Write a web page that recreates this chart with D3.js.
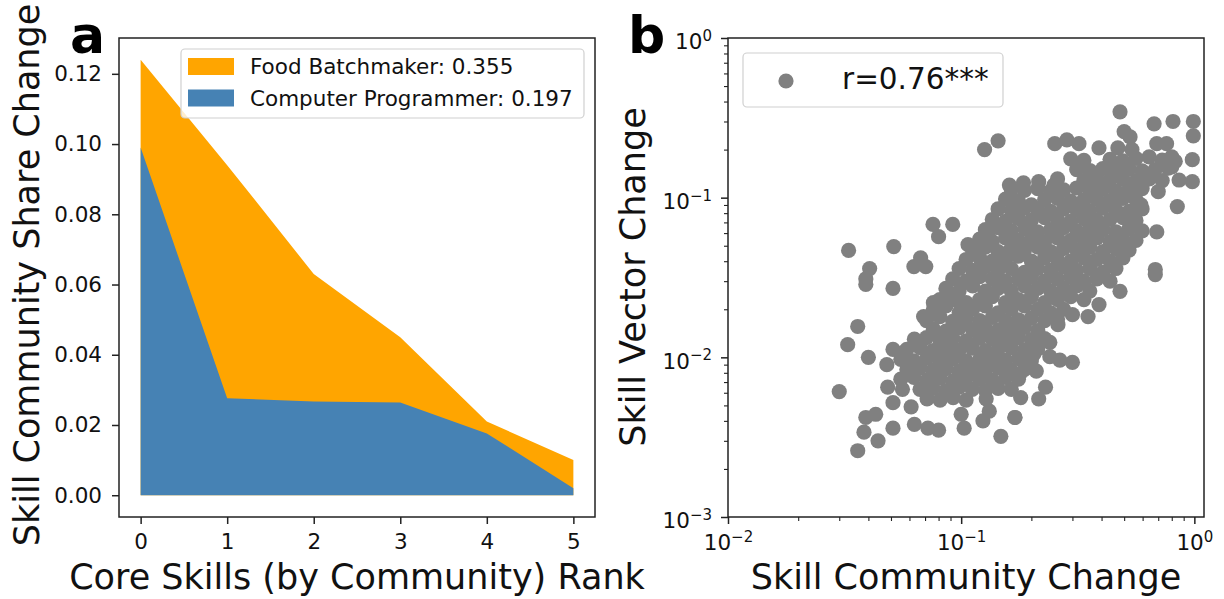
<!DOCTYPE html>
<html lang="en">
<head>
    <meta charset="UTF-8">
    <title>Skill Community Change</title>
    <script src="https://d3js.org/d3.v7.min.js"></script>
    <style>
        body { margin: 0; background: #fff; }
        svg { font-family: "DejaVu Sans", sans-serif; }
        .axis path, .axis line { stroke: #222; }
        .axis text { fill: #111; }
    </style>
</head>
<body>
<svg id="fig" width="1224" height="599"></svg>
<script>
// ---- panel a data ----
const ranks = [0, 1, 2, 3, 4, 5];
const foodBatchmaker = [0.124, 0.094, 0.063, 0.045, 0.021, 0.010];
const computerProgrammer = [0.099, 0.0276, 0.0267, 0.0264, 0.0176, 0.002];
const seriesLabels = ["Food Batchmaker: 0.355", "Computer Programmer: 0.197"];
const shareTicks = [0, 0.02, 0.04, 0.06, 0.08, 0.10, 0.12];

// ---- panel b data: [skill community change, skill vector change] ----
const corrLabel = "r=0.76***";
const logTicks = [0.001, 0.01, 0.1, 1];
const skillPoints = [
  // scattered points
  [0.126,0.200],[0.144,0.227],[0.161,0.120],[0.160,0.100],[0.0757,0.068],[0.092,0.068],[0.080,0.057],
  [0.0329,0.0467],[0.0514,0.0494],[0.067,0.042],[0.0627,0.037],[0.0705,0.037],[0.0405,0.036],[0.039,0.031],
  [0.48,0.345],[0.672,0.29],[0.81,0.30],[0.99,0.30],[0.99,0.244],[0.98,0.173],[0.98,0.126],[0.845,0.088],
  [0.69,0.061],[0.68,0.0355],[0.50,0.259],[0.53,0.24],[0.252,0.218],[0.284,0.23],[0.32,0.218],[0.39,0.205],
  [0.47,0.205],[0.54,0.2],[0.69,0.218],[0.76,0.218],[0.64,0.18],[0.80,0.18],[0.80,0.156],[0.185,0.124],
  [0.215,0.126],[0.25,0.12],[0.36,0.12],[0.86,0.129],[0.70,0.109],[0.59,0.09],[0.17,0.09],[0.20,0.09],
  [0.13,0.059],[0.107,0.0508],
  [0.039,0.0286],[0.051,0.027],[0.036,0.0156],[0.0326,0.012],[0.040,0.010],[0.030,0.0061],[0.0484,0.0065],
  [0.051,0.0052],[0.039,0.0042],[0.043,0.0044],[0.051,0.0036],[0.0383,0.0034],[0.044,0.0030],[0.036,0.0026],
  [0.063,0.0038],[0.072,0.0036],[0.080,0.0035],[0.103,0.0036],[0.100,0.0044],[0.124,0.0040],[0.132,0.0046],
  [0.128,0.0055],[0.148,0.0032],[0.17,0.0042],[0.051,0.0112],[0.057,0.0108],[0.048,0.009],[0.056,0.0063],
  [0.061,0.0049],[0.069,0.018],[0.076,0.022],[0.079,0.0185],[0.1,0.0286],[0.097,0.0224],
  [0.68,0.033],[0.48,0.0259],[0.39,0.0214],[0.35,0.018],[0.30,0.0185],[0.26,0.016],[0.30,0.0093],[0.265,0.0096],
  [0.24,0.0124],[0.24,0.0101],[0.205,0.0105],[0.21,0.0082],[0.23,0.0065],[0.215,0.0055],[0.18,0.0056],
  [0.17,0.0042],[0.178,0.0078],
  // dense core
  [0.295,0.175],[0.336,0.171],[0.435,0.174],[0.494,0.170],[0.562,0.176],[0.728,0.172],[0.828,0.169],
  [0.313,0.150],[0.356,0.148],[0.405,0.152],[0.461,0.149],[0.525,0.151],[0.597,0.147],[0.679,0.150],[0.773,0.153],
  [0.259,0.131],[0.336,0.128],[0.382,0.132],[0.435,0.129],[0.494,0.130],[0.562,0.127],[0.640,0.131],[0.728,0.128],
  [0.164,0.113],[0.187,0.111],[0.213,0.114],[0.242,0.110],[0.275,0.112],[0.313,0.115],[0.356,0.111],[0.405,0.113],
  [0.461,0.110],[0.525,0.112],[0.597,0.114],
  [0.155,0.098],[0.176,0.096],[0.228,0.097],[0.259,0.099],[0.295,0.095],[0.336,0.097],[0.382,0.098],[0.435,0.096],
  [0.494,0.099],[0.562,0.097],
  [0.144,0.085],[0.164,0.083],[0.187,0.086],[0.213,0.084],[0.242,0.082],[0.275,0.085],[0.313,0.084],[0.356,0.083],
  [0.405,0.086],[0.461,0.084],[0.525,0.082],[0.597,0.085],
  [0.136,0.073],[0.155,0.071],[0.176,0.074],[0.200,0.072],[0.228,0.075],[0.259,0.073],[0.295,0.071],[0.336,0.074],
  [0.382,0.072],[0.435,0.073],[0.494,0.075],[0.562,0.072],
  [0.127,0.063],[0.144,0.065],[0.164,0.062],[0.187,0.064],[0.213,0.061],[0.242,0.063],[0.275,0.065],[0.313,0.062],
  [0.356,0.064],[0.405,0.063],[0.461,0.061],[0.525,0.064],[0.597,0.062],
  [0.120,0.055],[0.136,0.053],[0.155,0.056],[0.176,0.054],[0.200,0.055],[0.228,0.053],[0.259,0.056],[0.295,0.054],
  [0.336,0.055],[0.382,0.056],[0.435,0.053],[0.494,0.055],[0.562,0.054],
  [0.112,0.047],[0.127,0.049],[0.144,0.046],[0.164,0.048],[0.187,0.047],[0.213,0.049],[0.242,0.046],[0.275,0.048],
  [0.313,0.047],[0.356,0.049],[0.405,0.046],[0.461,0.048],[0.525,0.047],
  [0.105,0.041],[0.120,0.042],[0.136,0.040],[0.155,0.041],[0.176,0.043],[0.200,0.040],[0.228,0.042],[0.259,0.041],
  [0.295,0.040],[0.336,0.042],[0.382,0.041],[0.435,0.040],[0.494,0.042],
  [0.098,0.036],[0.112,0.035],[0.127,0.037],[0.144,0.035],[0.164,0.036],[0.187,0.034],[0.213,0.036],[0.242,0.035],
  [0.275,0.037],[0.313,0.035],[0.356,0.036],[0.405,0.034],[0.461,0.036],
  [0.092,0.031],[0.105,0.030],[0.120,0.032],[0.136,0.031],[0.155,0.030],[0.176,0.031],[0.200,0.032],[0.228,0.030],
  [0.259,0.031],[0.295,0.032],[0.336,0.030],[0.382,0.031],[0.435,0.030],
  [0.086,0.027],[0.098,0.026],[0.112,0.028],[0.127,0.026],[0.144,0.027],[0.164,0.026],[0.187,0.028],[0.213,0.027],
  [0.242,0.026],[0.275,0.027],[0.313,0.028],[0.356,0.026],
  [0.081,0.023],[0.092,0.024],[0.105,0.022],[0.120,0.023],[0.136,0.024],[0.155,0.022],[0.176,0.023],[0.200,0.024],
  [0.228,0.022],[0.259,0.023],[0.295,0.024],[0.336,0.023],
  [0.076,0.020],[0.086,0.021],[0.098,0.019],[0.112,0.020],[0.127,0.021],[0.144,0.019],[0.164,0.020],[0.187,0.021],
  [0.213,0.020],[0.242,0.019],[0.275,0.020],
  [0.071,0.017],[0.081,0.018],[0.092,0.0168],[0.105,0.0175],[0.120,0.017],[0.136,0.0178],[0.155,0.0169],
  [0.176,0.0172],[0.200,0.0176],[0.228,0.017],[0.259,0.0173],
  [0.076,0.015],[0.086,0.0146],[0.098,0.0153],[0.112,0.0149],[0.127,0.0152],[0.144,0.0148],[0.164,0.015],
  [0.187,0.0154],[0.213,0.0147],
  [0.063,0.013],[0.071,0.0133],[0.081,0.0128],[0.092,0.0131],[0.105,0.0127],[0.120,0.0132],[0.136,0.013],
  [0.155,0.0128],[0.176,0.0133],[0.200,0.0129],[0.228,0.0131],
  [0.0585,0.0112],[0.0666,0.0115],[0.0757,0.011],[0.0862,0.0113],[0.098,0.0111],[0.1115,0.0114],[0.127,0.011],
  [0.144,0.0112],[0.164,0.0115],[0.187,0.0111],[0.213,0.0113],
  [0.0551,0.0097],[0.0627,0.0095],[0.0714,0.0099],[0.0812,0.0096],[0.0924,0.0098],[0.105,0.0095],[0.120,0.0097],
  [0.136,0.0099],[0.155,0.0096],[0.176,0.0098],[0.200,0.0095],
  [0.0585,0.0084],[0.0666,0.0086],[0.0757,0.0083],[0.0862,0.0085],[0.098,0.0082],[0.1115,0.0085],[0.127,0.0084],
  [0.144,0.0086],[0.164,0.0083],[0.187,0.0084],
  [0.0551,0.0073],[0.0627,0.0075],[0.0714,0.0072],[0.0812,0.0074],[0.0924,0.0071],[0.105,0.0074],[0.120,0.0073],
  [0.136,0.0072],[0.155,0.0075],[0.176,0.0073],
  [0.0666,0.0063],[0.0757,0.0064],[0.0862,0.0062],[0.098,0.0065],[0.1115,0.0063],[0.127,0.0062],[0.144,0.0064],
  [0.164,0.0063],
  [0.0714,0.0055],[0.0812,0.0054],[0.0924,0.0056],[0.105,0.0054]
];

const svg = d3.select("#fig");
const orange = "#FFA500", steel = "#4682B4", grey = "#808080";
const tickFont = 21.5;

// matplotlib-like tick text
const styleTicks = g => g
    .attr("font-family", "DejaVu Sans, sans-serif")
    .attr("font-size", tickFont)
    .call(s => s.select(".domain").remove());

// ================= panel a =================
const a = { left: 119, right: 595, top: 38, bottom: 517 };
const xA = d3.scaleLinear().domain([-0.25, 5.25]).range([a.left, a.right]);
const yA = d3.scaleLinear().domain([-0.0062, 0.1302]).range([a.bottom, a.top]);

const area = vals => d3.area()
    .x((d, i) => xA(ranks[i]))
    .y0(yA(0))
    .y1(d => yA(d))(vals);

svg.append("path").attr("d", area(foodBatchmaker)).attr("fill", orange);
svg.append("path").attr("d", area(computerProgrammer)).attr("fill", steel);

svg.append("g").attr("class", "axis")
    .attr("transform", `translate(0,${a.bottom})`)
    .call(d3.axisBottom(xA).tickValues(ranks).tickFormat(d3.format("d")).tickSizeInner(7).tickSizeOuter(0).tickPadding(10))
    .call(styleTicks)
    .selectAll("line").attr("stroke-width", 1.5);
svg.append("g").attr("class", "axis")
    .attr("transform", `translate(${a.left},0)`)
    .call(d3.axisLeft(yA).tickValues(shareTicks).tickFormat(d3.format(".2f")).tickSizeInner(7).tickSizeOuter(0).tickPadding(10))
    .call(styleTicks)
    .selectAll("line").attr("stroke-width", 1.5);

svg.append("rect")
    .attr("x", a.left).attr("y", a.top)
    .attr("width", a.right - a.left).attr("height", a.bottom - a.top)
    .attr("fill", "none").attr("stroke", "#222").attr("stroke-width", 1.5);

// legend a
const legA = svg.append("g");
legA.append("rect").attr("x", 181).attr("y", 49).attr("width", 403).attr("height", 69).attr("rx", 4)
    .attr("fill", "rgba(255,255,255,0.8)").attr("stroke", "#d0d0d0").attr("stroke-width", 1.2);
[orange, steel].forEach((c, i) => {
    legA.append("rect").attr("x", 188).attr("y", 58 + i * 31.5).attr("width", 46).attr("height", 17).attr("fill", c);
    legA.append("text").attr("x", 250).attr("y", 74 + i * 31.5)
        .attr("font-size", 21.5).attr("fill", "#111").text(seriesLabels[i]);
});

// axis titles a
svg.append("text").attr("x", (a.left + a.right) / 2).attr("y", 589)
    .attr("text-anchor", "middle").attr("font-size", 35).attr("fill", "#111")
    .text("Core Skills (by Community) Rank");
svg.append("text").attr("transform", "translate(39,275) rotate(-90)")
    .attr("text-anchor", "middle").attr("font-size", 35).attr("fill", "#111")
    .text("Skill Community Share Change");
svg.append("text").attr("x", 70).attr("y", 53).attr("font-size", 52).attr("font-weight", "bold")
    .attr("fill", "#000").text("a");

// ================= panel b =================
const b = { left: 728, right: 1204, top: 38, bottom: 517 };
const xB = d3.scaleLog().domain([0.01, 1.1]).range([b.left, b.right]);
const yB = d3.scaleLog().domain([0.001, 1]).range([b.bottom, b.top]);

svg.append("g").selectAll("circle")
    .data(skillPoints)
    .enter().append("circle")
    .attr("cx", d => xB(d[0]))
    .attr("cy", d => yB(d[1]))
    .attr("r", 7.6)
    .attr("fill", grey);

const minorOf = (lo, hi) => {
    const out = [];
    for (let e = lo; e < hi; e++) for (let m = 2; m <= 9; m++) out.push(m * Math.pow(10, e));
    return out;
};
const supLabel = function (d) {
    const t = d3.select(this);
    const exp = Math.round(Math.log10(d));
    t.text("10");
    t.append("tspan").attr("dy", "-0.55em").attr("font-size", "15px")
        .text(exp < 0 ? "\u2212" + (-exp) : String(exp));
};

// x axis b
svg.append("g").attr("class", "axis")
    .attr("transform", `translate(0,${b.bottom})`)
    .call(d3.axisBottom(xB).tickValues(minorOf(-2, 0)).tickFormat("").tickSizeInner(4).tickSizeOuter(0))
    .call(styleTicks)
    .selectAll("line").attr("stroke-width", 1.1);
svg.append("g").attr("class", "axis")
    .attr("transform", `translate(0,${b.bottom})`)
    .call(d3.axisBottom(xB).tickValues([0.01, 0.1, 1]).tickSizeInner(7).tickSizeOuter(0).tickPadding(11))
    .call(styleTicks)
    .call(g => g.selectAll(".tick text").each(supLabel))
    .selectAll("line").attr("stroke-width", 1.5);

// y axis b
svg.append("g").attr("class", "axis")
    .attr("transform", `translate(${b.left},0)`)
    .call(d3.axisLeft(yB).tickValues(minorOf(-3, 0)).tickFormat("").tickSizeInner(4).tickSizeOuter(0))
    .call(styleTicks)
    .selectAll("line").attr("stroke-width", 1.1);
svg.append("g").attr("class", "axis")
    .attr("transform", `translate(${b.left},0)`)
    .call(d3.axisLeft(yB).tickValues(logTicks).tickSizeInner(7).tickSizeOuter(0).tickPadding(9))
    .call(styleTicks)
    .call(g => g.selectAll(".tick text").each(supLabel).attr("dy", "0.5em"))
    .selectAll("line").attr("stroke-width", 1.5);

svg.append("rect")
    .attr("x", b.left).attr("y", b.top)
    .attr("width", b.right - b.left).attr("height", b.bottom - b.top)
    .attr("fill", "none").attr("stroke", "#222").attr("stroke-width", 1.5);

// legend b
const legB = svg.append("g");
legB.append("rect").attr("x", 743).attr("y", 53).attr("width", 260).attr("height", 54).attr("rx", 4)
    .attr("fill", "rgba(255,255,255,0.8)").attr("stroke", "#d0d0d0").attr("stroke-width", 1.2);
legB.append("circle").attr("cx", 786).attr("cy", 81).attr("r", 7.6).attr("fill", grey);
legB.append("text").attr("x", 842).attr("y", 89).attr("font-size", 29.5).attr("fill", "#111").text(corrLabel);

// axis titles b
svg.append("text").attr("x", (b.left + b.right) / 2).attr("y", 589)
    .attr("text-anchor", "middle").attr("font-size", 35).attr("fill", "#111")
    .text("Skill Community Change");
svg.append("text").attr("transform", "translate(645,277) rotate(-90)")
    .attr("text-anchor", "middle").attr("font-size", 35).attr("fill", "#111")
    .text("Skill Vector Change");
svg.append("text").attr("x", 628).attr("y", 53).attr("font-size", 52).attr("font-weight", "bold")
    .attr("fill", "#000").text("b");
</script>
</body>
</html>
